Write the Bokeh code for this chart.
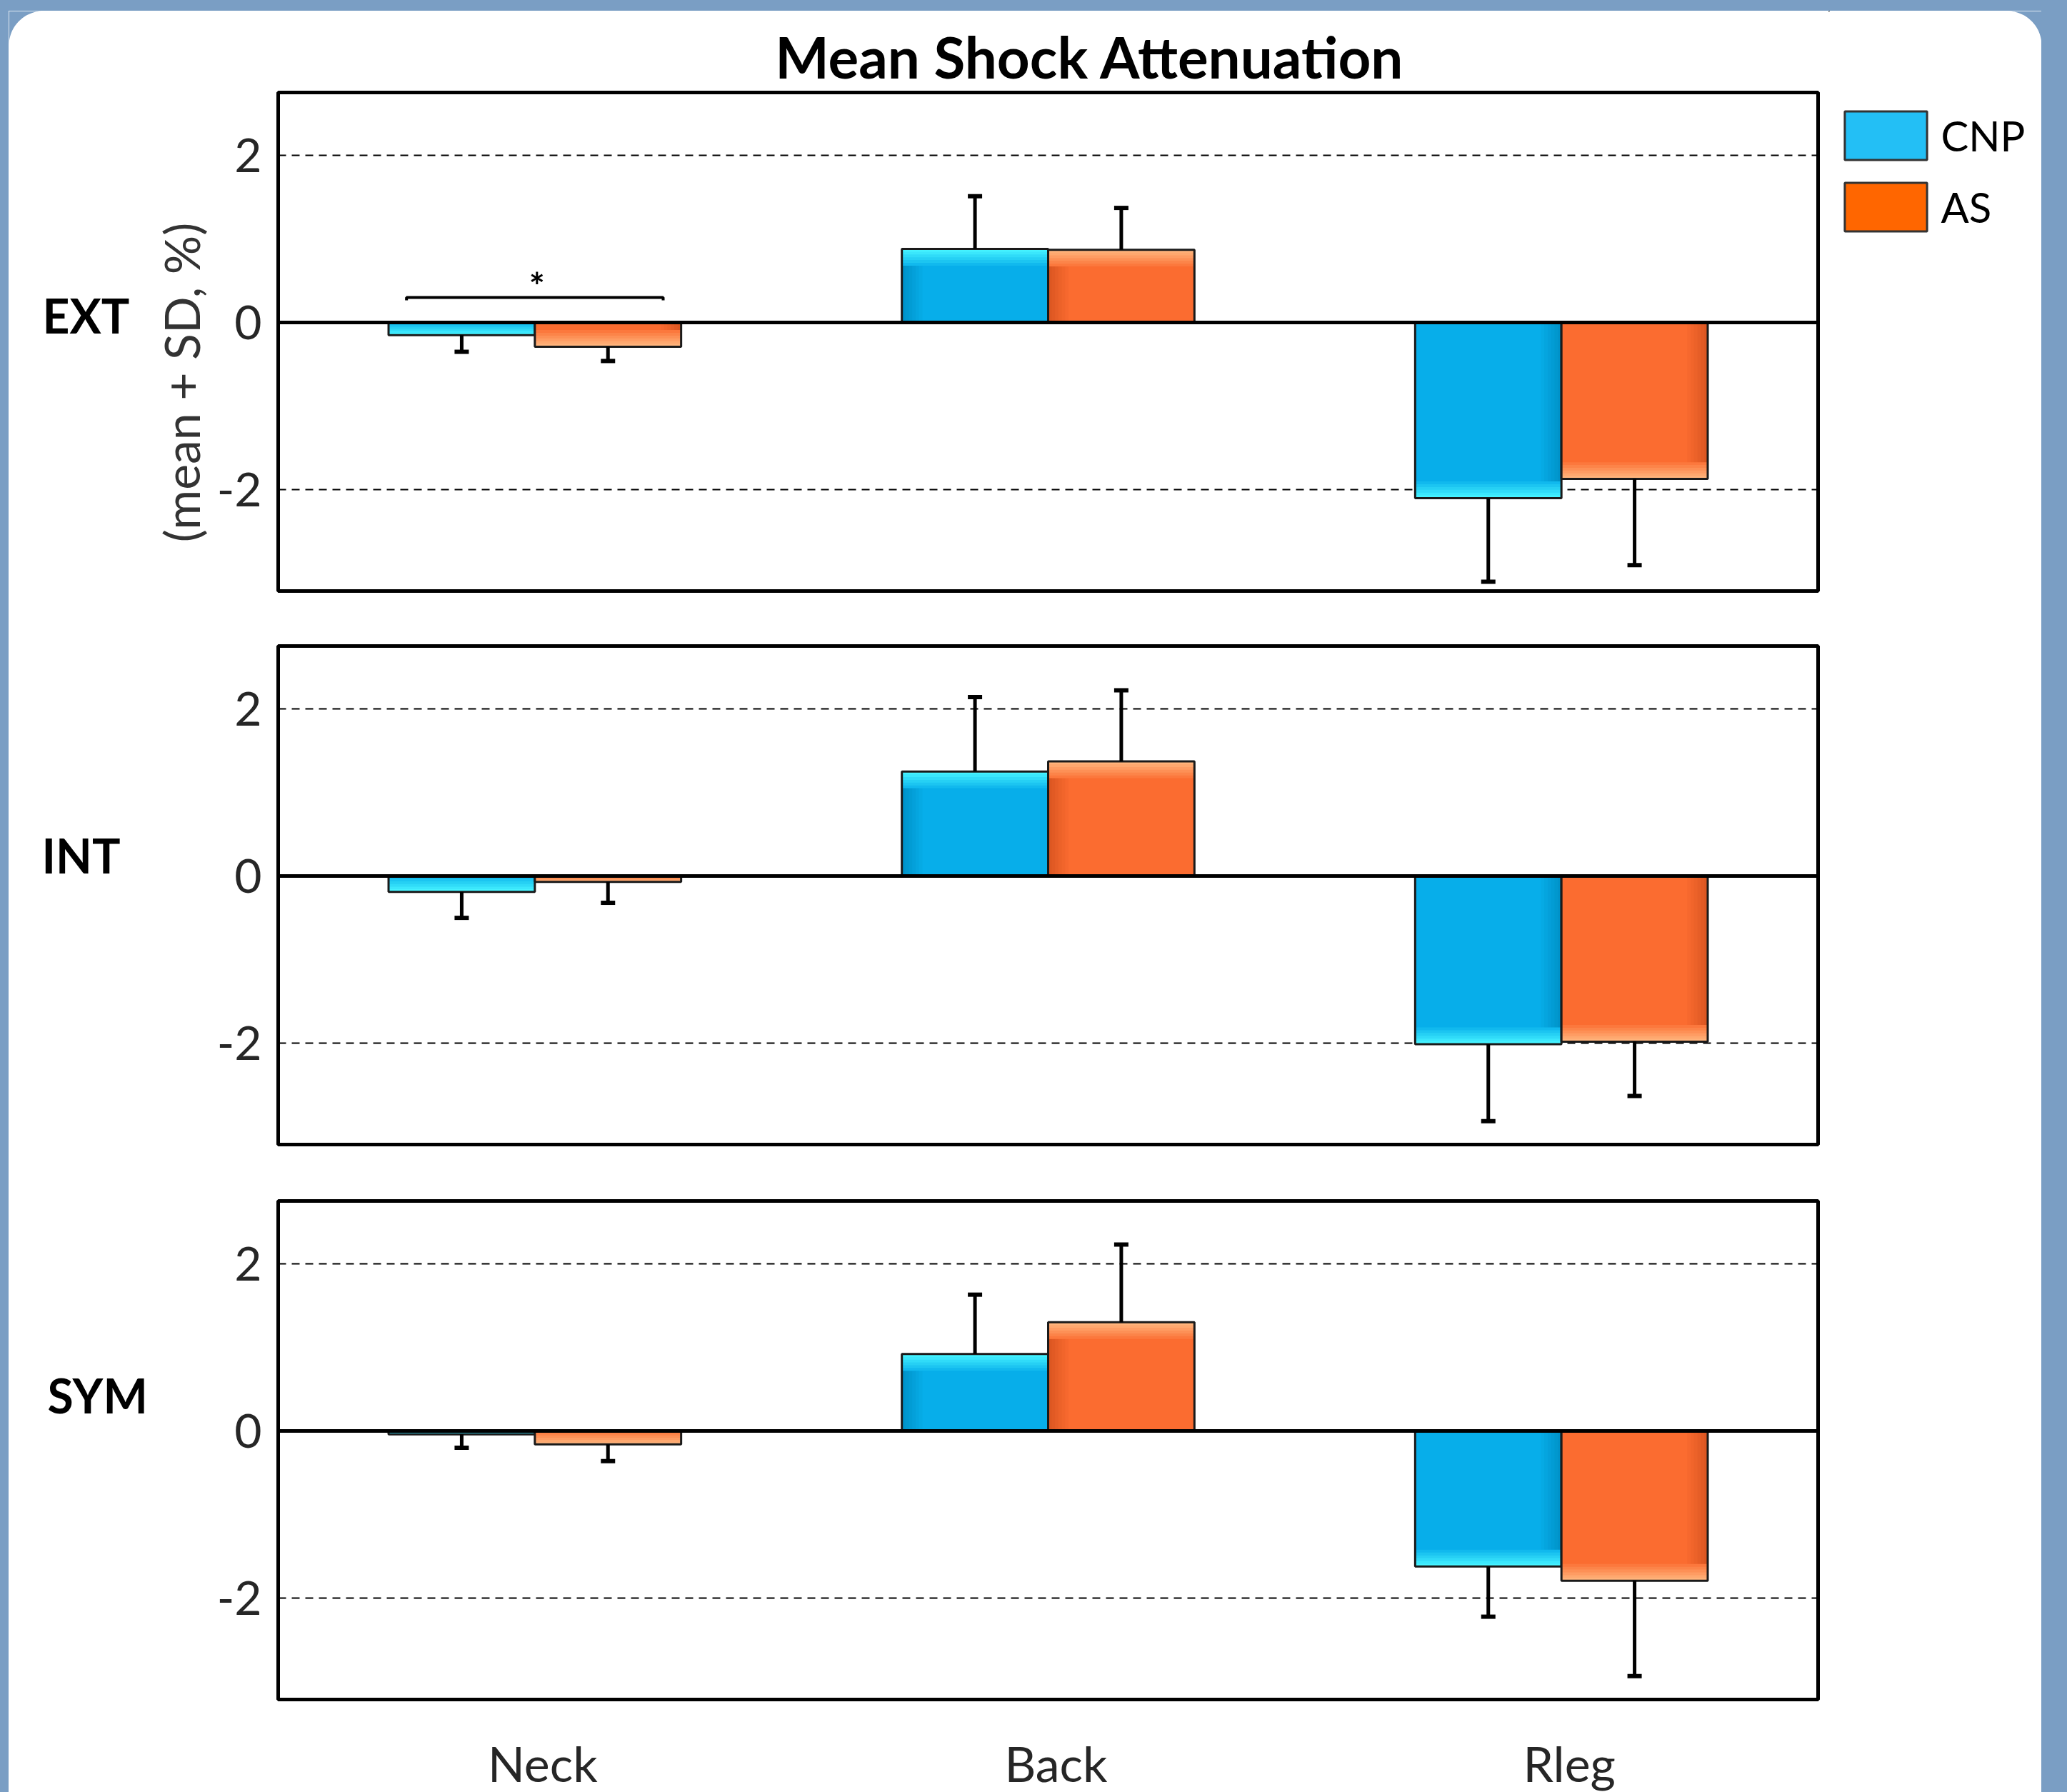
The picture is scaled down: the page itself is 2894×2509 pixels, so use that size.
import numpy as np
from bokeh.plotting import figure
from bokeh.models import (Range1d, Span, FixedTicker, Legend, LegendItem, Spacer)
from bokeh.layouts import column, row
from bokeh.embed import file_html
from bokeh.resources import INLINE
from bokeh.core.properties import value

# ---------------- data ----------------
categories = ["Neck", "Back", "Rleg"]
groups = ["CNP", "AS"]
panel_names = ["EXT", "INT", "SYM"]

ext_cnp_mean = [-0.15, 0.88, -2.10]
ext_cnp_sd = [0.20, 0.63, 1.00]
ext_as_mean = [-0.29, 0.87, -1.87]
ext_as_sd = [0.17, 0.50, 1.03]

int_cnp_mean = [-0.19, 1.25, -2.01]
int_cnp_sd = [0.31, 0.89, 0.92]
int_as_mean = [-0.07, 1.37, -1.98]
int_as_sd = [0.25, 0.85, 0.65]

sym_cnp_mean = [-0.04, 0.92, -1.62]
sym_cnp_sd = [0.16, 0.71, 0.60]
sym_as_mean = [-0.16, 1.30, -1.79]
sym_as_sd = [0.20, 0.93, 1.14]

y_ticks = [-2, 0, 2]
title_text = "Mean Shock Attenuation"
y_label_text = "(mean + SD, %)"

# ---------------- style ----------------
FONT = "Lato"
BG_BLUE = "#7A9EC4"
BAR_W = 0.285
BX = 0.04
BY = 0.2
NB = 6
CNP_MAIN, CNP_LIGHT, CNP_DARK = "#07AEEA", "#45F2FF", "#0093C9"
AS_MAIN, AS_LIGHT, AS_DARK = "#FB6C30", "#FFB47C", "#DC5722"
CNP_LEG, AS_LEG = "#23BFF5", "#FF6600"

W_LEFT, W_MAIN, W_RIGHT = 288, 2260, 298
MB_LEFT, MB_RIGHT = 88, 15


def mix(c1, c2, t):
    a = [int(c1[i:i + 2], 16) for i in (1, 3, 5)]
    b = [int(c2[i:i + 2], 16) for i in (1, 3, 5)]
    return "#%02x%02x%02x" % tuple(int(round(a[k] + (b[k] - a[k]) * t)) for k in range(3))


def draw_bars(p, xs, means, sds, main, light, dark):
    m = np.array(means, dtype=float)
    s = np.array(sds, dtype=float)
    sg = np.sign(m)
    half = BAR_W / 2
    left = xs - half
    right = xs + half
    lo = np.minimum(m, 0)
    hi = np.maximum(m, 0)
    p.quad(left=left, right=right, bottom=lo, top=hi, fill_color=main, line_color=None)
    for k in range(NB, 0, -1):
        d = BX * k / NB
        col = mix(dark, main, (k - 1) / NB)
        x0 = np.where(m > 0, left, right - d)
        x1 = np.where(m > 0, left + d, right)
        p.quad(left=x0, right=x1, bottom=lo, top=hi, fill_color=col, line_color=None)
    by = np.minimum(np.abs(m), BY)
    for k in range(NB, 0, -1):
        d = by * k / NB
        col = mix(light, main, (k - 1) / NB)
        yb = m - sg * d
        p.quad(left=left, right=right, bottom=np.minimum(m, yb), top=np.maximum(m, yb),
               fill_color=col, line_color=None)
    p.quad(left=left, right=right, bottom=lo, top=hi, fill_color=None,
           line_color="#1a1a1a", line_width=3)
    tip = m + sg * s
    p.segment(x0=xs, y0=m, x1=xs, y1=tip, line_color="black", line_width=5)
    p.rect(x=xs, y=tip, width=20, height=6, width_units="screen", height_units="screen",
           fill_color="black", line_color=None)


x_shared = Range1d(0, len(categories))


def make_panel(height, top_b, bottom_b, cnp_m, cnp_s, as_m, as_s):
    p = figure(width=W_MAIN, height=height, x_range=x_shared,
               y_range=Range1d(-3.21, 2.75), output_backend="svg", toolbar_location=None,
               x_axis_location=None, y_axis_location="left",
               min_border_left=MB_LEFT, min_border_right=MB_RIGHT,
               min_border_top=top_b, min_border_bottom=bottom_b,
               background_fill_color="white", border_fill_color="white",
               outline_line_color="black", outline_line_width=5)
    p.yaxis.ticker = FixedTicker(ticks=y_ticks)
    p.yaxis.major_label_overrides = {t: str(t) for t in y_ticks}
    p.yaxis.axis_line_color = None
    p.yaxis.major_tick_line_color = None
    p.yaxis.minor_tick_line_color = None
    p.yaxis.major_label_text_font = FONT
    p.yaxis.major_label_text_font_size = "66px"
    p.yaxis.major_label_text_color = "#262626"
    p.yaxis.major_label_standoff = 17
    p.xgrid.visible = False
    p.ygrid.ticker = FixedTicker(ticks=[t for t in y_ticks if t != 0])
    p.ygrid.grid_line_color = "black"
    p.ygrid.grid_line_width = 2
    p.ygrid.grid_line_dash = "11 8"

    xs = np.arange(len(categories)) + 0.5
    draw_bars(p, xs - BAR_W / 2, cnp_m, cnp_s, CNP_MAIN, CNP_LIGHT, CNP_DARK)
    draw_bars(p, xs + BAR_W / 2, as_m, as_s, AS_MAIN, AS_LIGHT, AS_DARK)
    p.add_layout(Span(location=0, dimension="width", line_color="black", line_width=5))
    return p


def blank_fig(width, height, x_range, y_range, **kw):
    f = figure(width=width, height=height, x_range=x_range, y_range=y_range,
               output_backend="svg", toolbar_location=None, x_axis_location=None,
               y_axis_location=None, min_border=0, outline_line_color=None,
               background_fill_color="white", border_fill_color="white", **kw)
    f.grid.visible = False
    return f


p1 = make_panel(738, 2, 38, ext_cnp_mean, ext_cnp_sd, ext_as_mean, ext_as_sd)
p2 = make_panel(776, 39, 39, int_cnp_mean, int_cnp_sd, int_as_mean, int_as_sd)
p3 = make_panel(748, 40, 10, sym_cnp_mean, sym_cnp_sd, sym_as_mean, sym_as_sd)

# significance bracket over Neck (EXT)
neck_x = categories.index("Neck") + 0.5
p1.line(x=[neck_x - 0.25, neck_x - 0.25, neck_x + 0.25, neck_x + 0.25],
        y=[0.265, 0.30, 0.30, 0.265], line_color="black", line_width=4)
p1.text(x=[neck_x + 0.004], y=[0.444], text=["*"], text_font=value(FONT),
        text_font_style="bold", text_font_size="52px", text_color="black",
        text_align="center", text_baseline="middle")

# ---- title strip (frame aligned with the panels; page pixel coordinates) ----
title_fig = blank_fig(W_MAIN, 112, Range1d(388, 2545), Range1d(127, 15),
                      min_border_left=MB_LEFT, min_border_right=MB_RIGHT)
title_fig.text(x=[1084], y=[78], text=[title_text], text_font=value(FONT),
               text_font_style="bold", text_font_size="80px", text_color="black",
               text_align="left", text_baseline="middle")

# ---- category labels under the last panel ----
bottom_fig = blank_fig(W_MAIN, 120, x_shared, Range1d(2509, 2389),
                       min_border_left=MB_LEFT, min_border_right=MB_RIGHT)
bottom_fig.text(x=np.arange(len(categories)) + 0.5, y=2468, text=categories, x_offset=11,
                text_font=value(FONT), text_font_size="68px", text_color="#262626",
                text_align="center", text_baseline="middle")

# ---- left strip: row names and y label ----
left_fig = blank_fig(W_LEFT, 2494, Range1d(12, 300), Range1d(2509, 15))
left_fig.text(x=[59, 58, 66], y=[441, 1197, 1953], text=panel_names,
              text_font=value(FONT), text_font_style="bold", text_font_size="66px",
              text_color="black", text_align="left", text_baseline="middle")
left_fig.text(x=[253], y=[535], text=[y_label_text], angle=np.pi / 2, text_font=value(FONT),
              text_font_size="68px", text_color="#333333", text_align="center",
              text_baseline="middle")
th = np.linspace(-np.pi / 2, -np.pi, 30)
left_fig.patch(x=np.concatenate([[12], 60 + 48 * np.cos(th)]),
               y=np.concatenate([[15], 63 + 48 * np.sin(th)]),
               fill_color=BG_BLUE, line_color=None)

# ---- right strip: legend ----
right_fig = blank_fig(W_RIGHT, 2494, Range1d(2560, 2858), Range1d(2509, 15))
th2 = np.linspace(-np.pi / 2, 0, 30)
right_fig.patch(x=np.concatenate([[2858], 2810 + 48 * np.cos(th2)]),
                y=np.concatenate([[15], 63 + 48 * np.sin(th2)]),
                fill_color=BG_BLUE, line_color=None)
# legend proxies (their single bar lies outside the visible range)
r_cnp = right_fig.vbar(x=[0], top=[1], width=1, fill_color=CNP_LEG, line_color="#333333", line_width=3)
r_as = right_fig.vbar(x=[0], top=[1], width=1, fill_color=AS_LEG, line_color="#333333", line_width=3)
legend = Legend(items=[LegendItem(label=groups[0], renderers=[r_cnp]),
                       LegendItem(label=groups[1], renderers=[r_as])],
                location=(7.6, 2177.5), orientation="vertical", glyph_width=144, glyph_height=85,
                spacing=15, padding=0, margin=0, label_standoff=6, label_text_font=FONT,
                label_text_font_size="58px", label_text_color="black",
                border_line_color=None, background_fill_alpha=0)
right_fig.add_layout(legend)

# ---- layout ----
main_col = column(title_fig, p1, p2, p3, bottom_fig, spacing=0)
top_strip = Spacer(width=2894, height=15, styles={"background-color": BG_BLUE})
left_strip = Spacer(width=12, height=2494, styles={"background-color": BG_BLUE})
right_strip = Spacer(width=36, height=2494, styles={"background-color": BG_BLUE})
inner = row(left_strip, left_fig, main_col, right_fig, right_strip, spacing=0)
root = column(top_strip, inner, spacing=0)

open("out.html", "w").write(file_html(root, INLINE))
